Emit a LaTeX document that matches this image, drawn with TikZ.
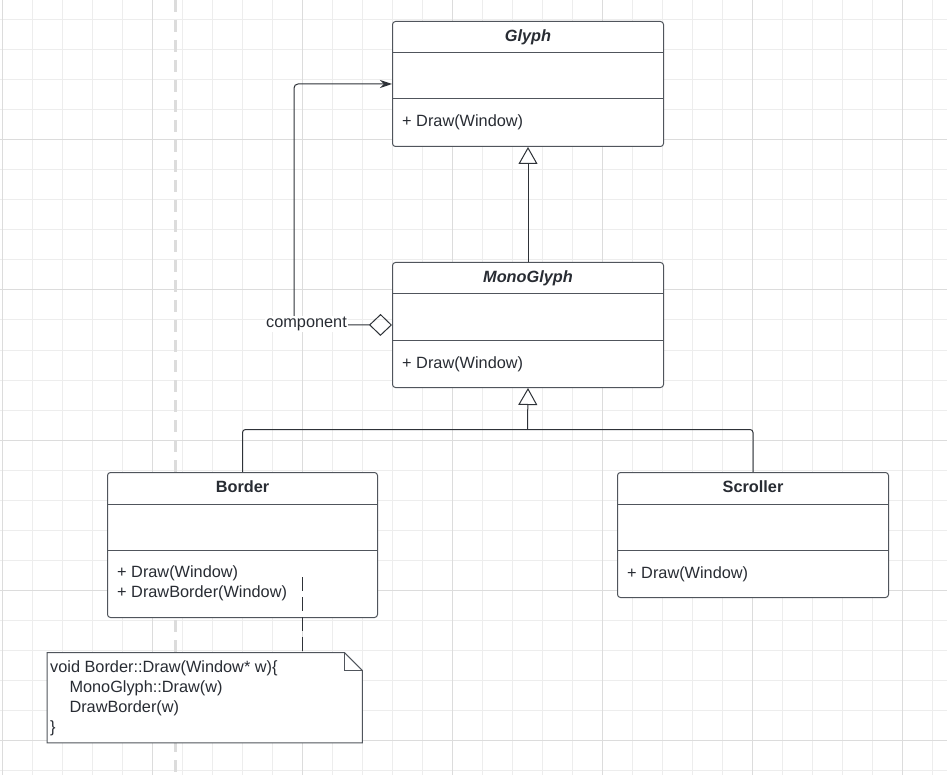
\documentclass[tikz,border=0pt]{standalone}
\usepackage{fontspec}
\setmainfont{Liberation Sans}
\usetikzlibrary{arrows.meta}
\definecolor{gridminor}{HTML}{EDEDED}
\definecolor{gridmajor}{HTML}{DCDCDC}
\definecolor{boxline}{HTML}{50555C}
\definecolor{txt}{HTML}{282C33}
\definecolor{wire}{HTML}{2E3238}
\tikzset{
  cls/.style={draw=boxline, fill=white, line width=1pt, rounded corners=3pt, inner sep=0pt, anchor=north west},
  divider/.style={draw=boxline, line width=1pt},
  titletext/.style={font=\fontsize{16.3}{20}\selectfont\bfseries, text=txt, inner sep=0pt, anchor=base},
  optext/.style={font=\fontsize{16.3}{20}\selectfont, text=txt, inner sep=0pt, anchor=base west, align=left},
  genline/.style={draw=wire, line width=1pt, -{Triangle[open, length=17pt, width=19pt, line width=1pt]}},
  busline/.style={draw=wire, line width=1pt, rounded corners=3pt},
  aggline/.style={draw=wire, line width=1pt, rounded corners=4pt,
    {Diamond[open, length=23pt, width=22pt, line width=1pt]}-{Stealth[length=12pt, width=8pt]}},
  notelink/.style={draw=wire, line width=1pt, dash pattern=on 14pt off 6pt},
}
\begin{document}
\begin{tikzpicture}[x=1pt, y=-1pt]
\useasboundingbox (0,0) rectangle (947,775);
\fill[white] (0,0) rectangle (947,775);
% grid
\foreach \gx in {2,32,...,947} \draw[gridminor, line width=1pt] (\gx,0) -- (\gx,775);
\foreach \gy in {20,50,...,775} \draw[gridminor, line width=1pt] (0,\gy) -- (947,\gy);
\foreach \gx in {2,152,...,947} \draw[gridmajor, line width=1pt] (\gx,0) -- (\gx,775);
\foreach \gy in {140,290,...,775} \draw[gridmajor, line width=1pt] (0,\gy) -- (947,\gy);
\draw[gridmajor, line width=3pt, dash pattern=on 12pt off 8pt] (175.5,0) -- (175.5,775);

% Glyph
\node[cls, minimum width=271pt, minimum height=125pt] (glyph) at (392,21) {};
\draw[divider] ([yshift=-32pt]glyph.north west) -- ([yshift=-32pt]glyph.north east);
\draw[divider] ([yshift=-78pt]glyph.north west) -- ([yshift=-78pt]glyph.north east);
\node[titletext] (glyphT) at ([yshift=-20.5pt]glyph.north) {\itshape Glyph};
\node[optext] (glyphOp) at ([xshift=10pt, yshift=-106pt]glyph.north west) {+ Draw(Window)};

% MonoGlyph
\node[cls, minimum width=271pt, minimum height=125pt] (mono) at (392,262) {};
\draw[divider] ([yshift=-32pt]mono.north west) -- ([yshift=-32pt]mono.north east);
\draw[divider] ([yshift=-78pt]mono.north west) -- ([yshift=-78pt]mono.north east);
\node[titletext] (monoT) at ([yshift=-20.5pt]mono.north) {\itshape MonoGlyph};
\node[optext] (monoOp) at ([xshift=10pt, yshift=-106pt]mono.north west) {+ Draw(Window)};

% Border
\node[cls, minimum width=270pt, minimum height=145pt] (border) at (107,472) {};
\draw[divider] ([yshift=-32pt]border.north west) -- ([yshift=-32pt]border.north east);
\draw[divider] ([yshift=-78pt]border.north west) -- ([yshift=-78pt]border.north east);
\node[titletext] (borderT) at ([yshift=-20pt]border.north) {Border};
\node[optext] (borderOp) at ([xshift=10pt, yshift=-125.5pt]border.north west) {+ Draw(Window)\\+ DrawBorder(Window)};

% Scroller
\node[cls, minimum width=271pt, minimum height=125pt] (scroller) at (617,472) {};
\draw[divider] ([yshift=-32pt]scroller.north west) -- ([yshift=-32pt]scroller.north east);
\draw[divider] ([yshift=-78pt]scroller.north west) -- ([yshift=-78pt]scroller.north east);
\node[titletext] (scrollerT) at ([yshift=-20pt]scroller.north) {Scroller};
\node[optext] (scrollerOp) at ([xshift=10pt, yshift=-106.5pt]scroller.north west) {+ Draw(Window)};

% generalizations
\draw[genline] (mono.north) -- (glyph.south);
\coordinate (bus) at (527.5,429.5);
\draw[busline] (border.north) |- (bus) -| (scroller.north);
\draw[genline] (bus) -- (mono.south);

% aggregation
\coordinate (aggcorner) at (294,324.5);
\draw[aggline] (mono.west) -- (aggcorner) |- (glyph.west);
\node[fill=white, inner sep=1pt, font=\fontsize{16.3}{20}\selectfont, text=txt, anchor=base west] (comp) at (265,327.3) {component};

% note
\node[minimum width=315pt, minimum height=90pt, inner sep=0pt, anchor=north west] (note) at (47,652.5) {};
\draw[boxline, fill=white, line width=1pt] (note.south west) -- (note.north west) -- ([xshift=-18pt]note.north east) -- ([yshift=-18pt]note.north east) -- (note.south east) -- cycle;
\draw[boxline, line width=1pt] ([xshift=-18pt]note.north east) |- ([yshift=-18pt]note.north east);
\node[optext] (noteT) at (50,732.7) {void Border::Draw(Window* w)\{\\\hspace*{19.3pt}MonoGlyph::Draw(w)\\\hspace*{19.3pt}DrawBorder(w)\\\}};
\coordinate (linktop) at (302,577);
\draw[notelink] (linktop) -- (linktop |- note.north);
\end{tikzpicture}
\end{document}
